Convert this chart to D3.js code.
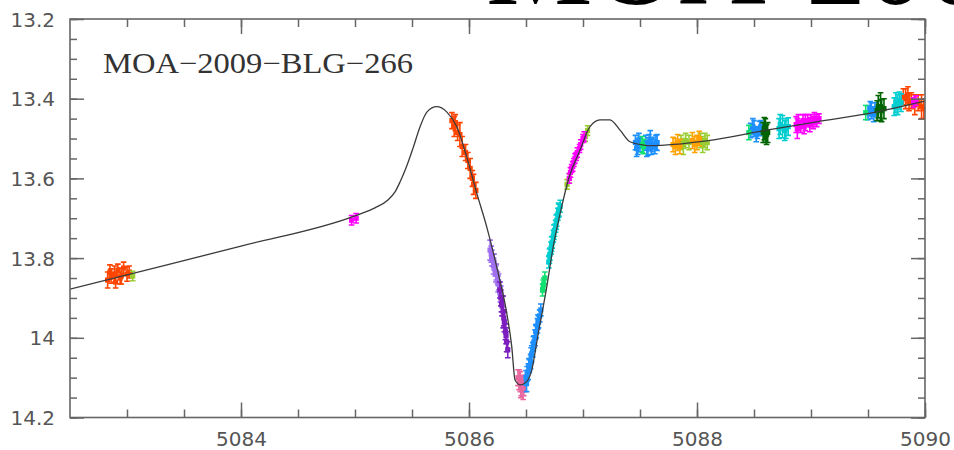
<!DOCTYPE html>
<html>
<head>
<meta charset="utf-8">
<script src="https://cdn.jsdelivr.net/npm/d3@7"></script>
<style>
  body { margin: 0; background: #fff; }
  svg { display: block; }
</style>
</head>
<body>
<div id="chart"></div>
<script>
// light curve, MOA-2009-BLG-266 (HJD - 2450000 vs magnitude)
var xDomain = [5082.5, 5090];
var yDomain = [13.2, 14.2];
var xTickLabels = [5084, 5086, 5088, 5090];
var yTickLabels = [13.2, 13.4, 13.6, 13.8, 14, 14.2];

// best-fit model curve
var modelT = [5082.5, 5083.0, 5084.0, 5085.0, 5085.175, 5085.289, 5085.351, 5085.395, 5085.447, 5085.509, 5085.57,
  5085.632, 5085.717, 5085.804, 5085.892, 5085.98, 5086.068, 5086.155, 5086.243, 5086.331, 5086.375, 5086.404,
  5086.447, 5086.506, 5086.55, 5086.608, 5086.682, 5086.739, 5086.813, 5086.871, 5086.974, 5087.061,
  5087.149, 5087.237, 5087.325, 5087.412, 5087.526, 5087.588, 5088.085, 5088.611, 5089.05, 5089.576, 5090.0];
var modelMag = [13.878, 13.842, 13.770, 13.694, 13.674, 13.654, 13.634, 13.609, 13.574, 13.524, 13.471,
  13.433, 13.420, 13.433, 13.470, 13.546, 13.637, 13.721, 13.822, 13.938, 14.022, 14.106,
  14.118, 14.110, 14.081, 13.988, 13.872, 13.771, 13.671, 13.604, 13.529, 13.470,
  13.453, 13.453, 13.479, 13.508, 13.516, 13.518, 13.506, 13.479, 13.458, 13.433, 13.406];

// data points: [t, mag, err]
var orangeRed = [
  [5082.83, 13.855, 0.02], [5082.85, 13.835, 0.018], [5082.86, 13.845, 0.018], [5082.89, 13.84, 0.02],
  [5082.90, 13.86, 0.015], [5082.92, 13.83, 0.015], [5082.94, 13.85, 0.015], [5082.95, 13.845, 0.02],
  [5082.97, 13.825, 0.015], [5083.0, 13.84, 0.018], [5083.02, 13.835, 0.015],
  [5085.85, 13.455, 0.02], [5085.87, 13.47, 0.025], [5085.88, 13.46, 0.02], [5085.90, 13.485, 0.02],
  [5085.92, 13.49, 0.03], [5085.94, 13.52, 0.025], [5085.97, 13.535, 0.02], [5085.99, 13.555, 0.02],
  [5086.01, 13.575, 0.025], [5086.03, 13.60, 0.02], [5086.04, 13.615, 0.025], [5086.06, 13.63, 0.02],
  [5089.81, 13.395, 0.02], [5089.83, 13.40, 0.025], [5089.85, 13.39, 0.02], [5089.86, 13.41, 0.02],
  [5089.88, 13.405, 0.02], [5089.91, 13.415, 0.025], [5089.94, 13.41, 0.02], [5089.97, 13.42, 0.03],
  [5089.99, 13.425, 0.025]
];
var yellowGreen = [
  [5083.05, 13.845, 0.012],
  [5086.86, 13.615, 0.012], [5086.88, 13.60, 0.012], [5087.02, 13.495, 0.012], [5087.04, 13.48, 0.012],
  [5087.86, 13.51, 0.018], [5087.88, 13.52, 0.02], [5087.90, 13.505, 0.018], [5087.93, 13.51, 0.018],
  [5088.03, 13.505, 0.018], [5088.05, 13.515, 0.02], [5088.07, 13.505, 0.018], [5088.09, 13.51, 0.018]
];
var orange = [
  [5087.79, 13.515, 0.018], [5087.81, 13.52, 0.02], [5087.83, 13.51, 0.02], [5087.85, 13.52, 0.018],
  [5087.96, 13.505, 0.02], [5087.98, 13.515, 0.02], [5088.0, 13.51, 0.018], [5088.02, 13.50, 0.018]
];
var magenta = [
  [5084.97, 13.705, 0.012], [5085.01, 13.70, 0.012],
  [5086.88, 13.60, 0.012], [5086.89, 13.585, 0.012], [5086.90, 13.575, 0.01], [5086.91, 13.57, 0.012],
  [5086.92, 13.56, 0.01], [5086.93, 13.55, 0.012], [5086.94, 13.545, 0.01], [5086.95, 13.535, 0.012],
  [5086.97, 13.525, 0.01], [5086.98, 13.515, 0.012], [5087.0, 13.50, 0.01], [5087.01, 13.495, 0.012],
  [5088.87, 13.465, 0.02], [5088.88, 13.475, 0.025], [5088.89, 13.46, 0.02], [5088.91, 13.47, 0.015],
  [5088.93, 13.455, 0.015], [5088.94, 13.47, 0.018], [5088.95, 13.46, 0.02], [5088.97, 13.455, 0.015],
  [5088.99, 13.465, 0.018], [5089.0, 13.455, 0.015], [5089.02, 13.46, 0.015], [5089.03, 13.45, 0.015],
  [5089.05, 13.455, 0.015], [5089.07, 13.45, 0.012],
  [5089.90, 13.41, 0.012], [5089.92, 13.405, 0.012]
];
var lightPurple = [
  [5086.185, 13.78, 0.025], [5086.195, 13.79, 0.02], [5086.20, 13.80, 0.02], [5086.21, 13.805, 0.015],
  [5086.215, 13.82, 0.02], [5086.22, 13.81, 0.02], [5086.23, 13.83, 0.015], [5086.235, 13.84, 0.02],
  [5086.24, 13.835, 0.02], [5086.25, 13.85, 0.015], [5086.255, 13.865, 0.02], [5086.26, 13.86, 0.02],
  [5086.27, 13.875, 0.015], [5086.275, 13.89, 0.02], [5086.28, 13.89, 0.02]
];
var darkPurple = [
  [5086.27, 13.88, 0.02], [5086.28, 13.90, 0.02], [5086.285, 13.915, 0.02], [5086.29, 13.92, 0.025],
  [5086.30, 13.935, 0.04], [5086.305, 13.95, 0.02], [5086.31, 13.96, 0.025], [5086.32, 13.985, 0.02],
  [5086.325, 13.995, 0.02], [5086.33, 14.01, 0.025], [5086.34, 14.03, 0.02]
];
var pink = [
  [5086.43, 14.10, 0.02], [5086.44, 14.105, 0.025], [5086.45, 14.11, 0.025], [5086.455, 14.125, 0.025],
  [5086.46, 14.12, 0.025], [5086.47, 14.115, 0.02], [5086.475, 14.13, 0.025], [5086.48, 14.125, 0.02],
  [5086.49, 14.115, 0.02]
];
var dodgerBlue = [
  [5086.50, 14.10, 0.018], [5086.505, 14.115, 0.02], [5086.51, 14.09, 0.018], [5086.52, 14.085, 0.02],
  [5086.525, 14.07, 0.018], [5086.53, 14.07, 0.015], [5086.54, 14.06, 0.018], [5086.545, 14.045, 0.02],
  [5086.55, 14.04, 0.02], [5086.56, 14.03, 0.018], [5086.565, 14.015, 0.018], [5086.57, 14.01, 0.015],
  [5086.58, 14.0, 0.02], [5086.585, 13.985, 0.018], [5086.59, 13.985, 0.015], [5086.60, 13.97, 0.018],
  [5086.605, 13.96, 0.018], [5086.61, 13.96, 0.015], [5086.62, 13.945, 0.015], [5086.63, 13.93, 0.015],
  [5087.46, 13.51, 0.018], [5087.47, 13.525, 0.02], [5087.48, 13.52, 0.02], [5087.49, 13.505, 0.018],
  [5087.50, 13.515, 0.018], [5087.55, 13.51, 0.018], [5087.56, 13.525, 0.02], [5087.57, 13.52, 0.022],
  [5087.58, 13.51, 0.02], [5087.59, 13.505, 0.025], [5087.60, 13.52, 0.02], [5087.61, 13.515, 0.018],
  [5087.63, 13.52, 0.018], [5087.64, 13.51, 0.018], [5087.65, 13.51, 0.02],
  [5088.47, 13.48, 0.018], [5088.49, 13.47, 0.02], [5088.50, 13.475, 0.02], [5088.52, 13.49, 0.018],
  [5088.53, 13.485, 0.015], [5088.55, 13.475, 0.018], [5088.56, 13.47, 0.015],
  [5089.50, 13.435, 0.018], [5089.52, 13.425, 0.018], [5089.53, 13.43, 0.02], [5089.55, 13.44, 0.018],
  [5089.56, 13.425, 0.015]
];
var springGreen = [
  [5086.645, 13.88, 0.015], [5086.65, 13.87, 0.015], [5086.655, 13.865, 0.015], [5086.665, 13.85, 0.015],
  [5087.52, 13.515, 0.02], [5087.53, 13.52, 0.018], [5088.455, 13.485, 0.018], [5089.48, 13.435, 0.018]
];
var turquoise = [
  [5086.70, 13.81, 0.015], [5086.705, 13.795, 0.018], [5086.71, 13.79, 0.015], [5086.72, 13.775, 0.015],
  [5086.725, 13.765, 0.018], [5086.73, 13.76, 0.015], [5086.74, 13.745, 0.015], [5086.745, 13.735, 0.018],
  [5086.75, 13.73, 0.015], [5086.76, 13.72, 0.015], [5086.765, 13.71, 0.018], [5086.77, 13.705, 0.015],
  [5086.78, 13.69, 0.015], [5086.785, 13.68, 0.018], [5086.79, 13.68, 0.015], [5086.80, 13.67, 0.015],
  [5088.72, 13.475, 0.025], [5088.73, 13.465, 0.025], [5088.75, 13.47, 0.028], [5088.77, 13.48, 0.025],
  [5088.78, 13.475, 0.025], [5088.80, 13.47, 0.022],
  [5089.73, 13.42, 0.022], [5089.745, 13.41, 0.025], [5089.76, 13.415, 0.025], [5089.775, 13.405, 0.022],
  [5089.79, 13.41, 0.022]
];
var darkGreen = [
  [5088.58, 13.485, 0.025], [5088.59, 13.475, 0.028], [5088.60, 13.48, 0.03], [5088.61, 13.49, 0.025],
  [5088.62, 13.485, 0.025],
  [5089.58, 13.43, 0.025], [5089.59, 13.42, 0.028], [5089.61, 13.42, 0.035], [5089.62, 13.43, 0.028],
  [5089.64, 13.425, 0.025]
];

var series = [
  {pts: orangeRed, colour: "#ff4500"},
  {pts: lightPurple, colour: "#a070f0"},
  {pts: darkPurple, colour: "#7d1fbf"},
  {pts: pink, colour: "#e8679f"},
  {pts: dodgerBlue, colour: "#1e8fff"},
  {pts: springGreen, colour: "#10e070"},
  {pts: turquoise, colour: "#00cdd0"},
  {pts: yellowGreen, colour: "#9acd32"},
  {pts: magenta, colour: "#ff00ff"},
  {pts: orange, colour: "#ffa200"},
  {pts: darkGreen, colour: "#006400"}
];

var width = 954, height = 450;
var plotLeft = 70, plotRight = 925, plotTop = 19, plotBottom = 417.5;

var x = d3.scaleLinear().domain(xDomain).range([plotLeft, plotRight]);
var y = d3.scaleLinear().domain(yDomain).range([plotTop, plotBottom]);

var svg = d3.select("#chart").append("svg")
  .attr("width", width)
  .attr("height", height);

svg.append("defs").append("clipPath").attr("id", "plot")
  .append("rect").attr("x", plotLeft).attr("y", plotTop)
  .attr("width", plotRight - plotLeft).attr("height", plotBottom - plotTop);

// big title, mostly cut off by the top edge
svg.append("text")
  .attr("x", 486).attr("y", 4)
  .attr("font-family", "Liberation Serif, serif")
  .attr("font-size", 120)
  .attr("fill", "#000")
  .text("MOA-2009-BLG-266");

// data
var dataG = svg.append("g").attr("clip-path", "url(#plot)");
series.forEach(function(s){
  var g = dataG.append("g").attr("stroke", s.colour).attr("fill", s.colour).attr("stroke-width", 1.6);
  var pt = g.selectAll("g").data(s.pts).enter().append("g");
  pt.append("line")
    .attr("x1", function(d){ return x(d[0]); }).attr("x2", function(d){ return x(d[0]); })
    .attr("y1", function(d){ return y(d[1] - d[2]); }).attr("y2", function(d){ return y(d[1] + d[2]); });
  pt.append("line")
    .attr("x1", function(d){ return x(d[0]) - 2.8; }).attr("x2", function(d){ return x(d[0]) + 2.8; })
    .attr("y1", function(d){ return y(d[1] - d[2]); }).attr("y2", function(d){ return y(d[1] - d[2]); });
  pt.append("line")
    .attr("x1", function(d){ return x(d[0]) - 2.8; }).attr("x2", function(d){ return x(d[0]) + 2.8; })
    .attr("y1", function(d){ return y(d[1] + d[2]); }).attr("y2", function(d){ return y(d[1] + d[2]); });
  pt.append("rect")
    .attr("stroke", "none")
    .attr("x", function(d){ return x(d[0]) - 2.6; })
    .attr("y", function(d){ return y(d[1]) - 2.6; })
    .attr("width", 5.2).attr("height", 5.2);
});

// model
var line = d3.line()
  .x(function(d, i){ return x(modelT[i]); })
  .y(function(d){ return y(d); })
  .curve(d3.curveMonotoneX);
dataG.append("path")
  .attr("d", line(modelMag))
  .attr("fill", "none")
  .attr("stroke", "#3a3a3a")
  .attr("stroke-width", 1.3);

// axes, ticks pointing inward on all four sides
var xMinor = d3.range(5083, 5090.01, 0.5);
var yMinor = d3.range(13.2, 14.2001, 0.05).map(function(v){ return +v.toFixed(2); });

function styleAxis(g){
  g.select(".domain").remove();
  g.selectAll(".tick line").attr("stroke", "#666").attr("stroke-width", 1.5);
}

svg.append("g").attr("transform", "translate(0," + plotBottom + ")")
  .call(d3.axisBottom(x).tickValues(xMinor).tickSize(-8).tickFormat(""))
  .call(styleAxis);
svg.append("g").attr("transform", "translate(0," + plotTop + ")")
  .call(d3.axisTop(x).tickValues(xMinor).tickSize(-8).tickFormat(""))
  .call(styleAxis);
svg.append("g").attr("transform", "translate(" + plotLeft + ",0)")
  .call(d3.axisLeft(y).tickValues(yMinor).tickSize(-7).tickFormat(""))
  .call(styleAxis);
svg.append("g").attr("transform", "translate(" + plotRight + ",0)")
  .call(d3.axisRight(y).tickValues(yMinor).tickSize(-7).tickFormat(""))
  .call(styleAxis);

var xAxis = svg.append("g").attr("transform", "translate(0," + plotBottom + ")")
  .call(d3.axisBottom(x).tickValues(xTickLabels).tickSize(-15).tickFormat(String))
  .call(styleAxis);
svg.append("g").attr("transform", "translate(0," + plotTop + ")")
  .call(d3.axisTop(x).tickValues(xTickLabels).tickSize(-15).tickFormat(""))
  .call(styleAxis);
var yAxis = svg.append("g").attr("transform", "translate(" + plotLeft + ",0)")
  .call(d3.axisLeft(y).tickValues(yTickLabels).tickSize(-14).tickFormat(String))
  .call(styleAxis);
svg.append("g").attr("transform", "translate(" + plotRight + ",0)")
  .call(d3.axisRight(y).tickValues(yTickLabels).tickSize(-14).tickFormat(""))
  .call(styleAxis);

xAxis.selectAll(".tick text")
  .attr("y", 21).attr("dy", "0.35em")
  .attr("font-family", "DejaVu Sans, sans-serif").attr("font-size", 20).attr("fill", "#555");
yAxis.selectAll(".tick text")
  .attr("x", -15).attr("dy", "0.35em")
  .attr("font-family", "DejaVu Sans, sans-serif").attr("font-size", 20).attr("fill", "#555");

// frame
svg.append("rect")
  .attr("x", plotLeft).attr("y", plotTop)
  .attr("width", plotRight - plotLeft).attr("height", plotBottom - plotTop)
  .attr("fill", "none").attr("stroke", "#666").attr("stroke-width", 1.6);

// event label
svg.append("text")
  .attr("x", 103).attr("y", 73)
  .attr("font-family", "Liberation Serif, serif")
  .attr("font-size", 29)
  .attr("fill", "#333")
  .attr("textLength", 310)
  .attr("lengthAdjust", "spacingAndGlyphs")
  .text("MOA\u22122009\u2212BLG\u2212266");
</script>
</body>
</html>
